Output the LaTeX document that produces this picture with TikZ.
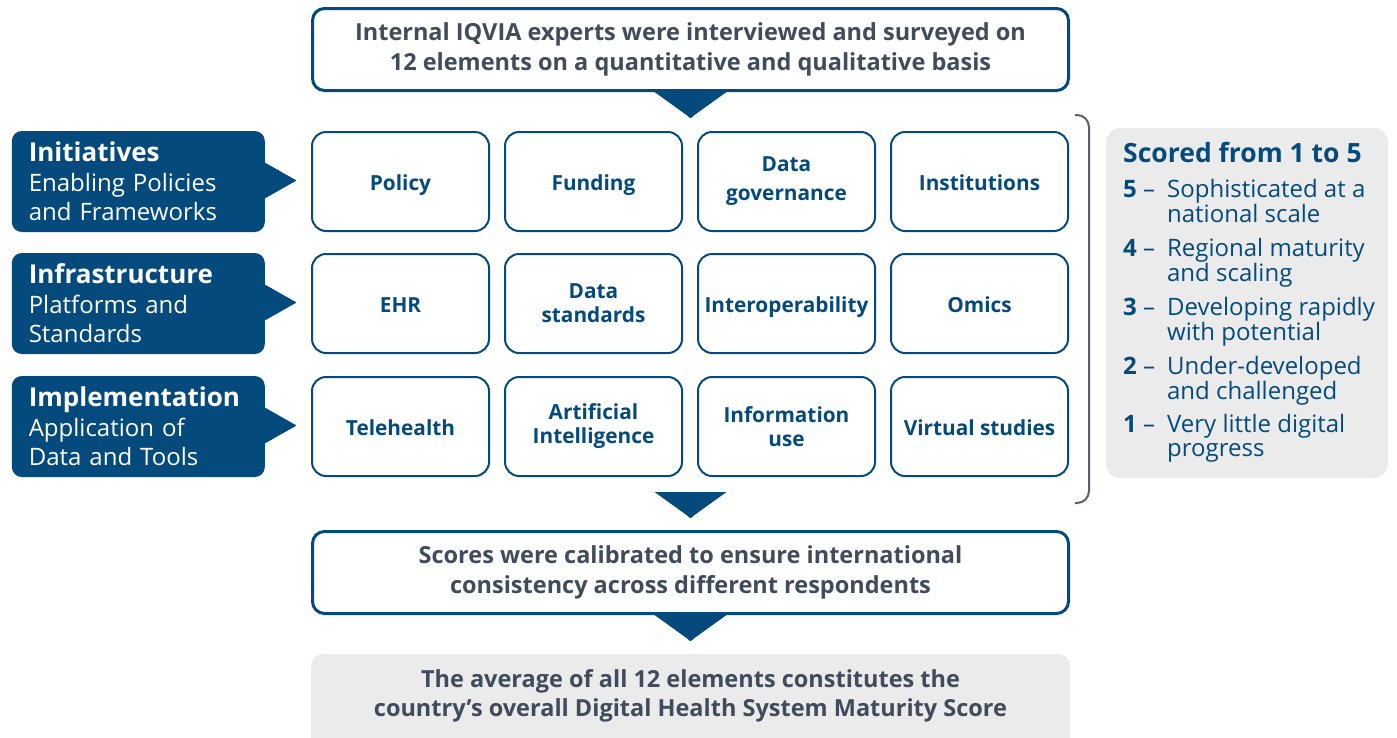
\documentclass[tikz,border=0pt]{standalone}
\usepackage{fontspec}
\setmainfont{Open Sans}
\usetikzlibrary{positioning,calc}

\definecolor{iqblue}{RGB}{4,74,124}
\definecolor{iqtext}{RGB}{64,75,92}
\definecolor{iqgrey}{RGB}{235,235,235}
\definecolor{bracegrey}{RGB}{88,96,108}

\tikzset{
    % the twelve element boxes
    cell/.style={
        draw=iqblue,
        line width=2pt,
        fill=white,
        rounded corners=14pt,
        minimum width=177pt,
        minimum height=99pt,
        inner sep=0pt,
        text=iqblue,
        align=center,
        font=\bfseries\fontsize{20.8}{24}\selectfont
    },
    oneline/.style={
        text height=21pt,
        text depth=4pt
    },
    % wide process steps
    stagebox/.style={
        draw=iqblue,
        line width=3pt,
        fill=white,
        rounded corners=12pt,
        minimum width=756pt,
        minimum height=82pt,
        inner sep=0pt,
        text=iqtext,
        align=center,
        font=\bfseries\fontsize{23.5}{29.5}\selectfont
    },
    stagetext/.style={
        inner sep=0pt,
        text=iqtext,
        align=center,
        font=\bfseries\fontsize{23.5}{29.5}\selectfont
    },
    pillar/.style={
        fill=iqblue,
        rounded corners=10pt,
        minimum height=101pt,
        text width=219pt,
        inner xsep=17pt,
        text=white,
        align=left,
        font=\fontsize{24}{29.5}\selectfont
    },
    flowtip/.pic={
        \fill[iqblue] (-36,0) -- (-4,23) .. controls (0,27) .. (4,23) -- (36,0) -- cycle;
    },
    sidetip/.pic={
        \fill[iqblue] (-2,-20) -- (28,-3) .. controls (32,-1) .. (28,1) -- (-2,18) -- cycle;
    }
}
\newcommand{\pillarhead}[1]{{\bfseries\fontsize{26}{29.5}\selectfont #1}}

\begin{document}
\begin{tikzpicture}[x=1pt, y=-1pt]
    \useasboundingbox (0,0) rectangle (1397,737);

    \node[stagebox] (survey) at (690.5,49.5)
        {Internal IQVIA experts were interviewed and surveyed on\\12 elements on a quantitative and qualitative basis};
    \pic at (survey.south) {flowtip};

    % element grid
    \node[cell, oneline] (policy) at (400.5,181.5) {Policy};
    \node[cell, oneline, right=14pt of policy] (funding) {Funding};
    \node[cell, right=14pt of funding] (governance) {Data\\[5pt]governance};
    \node[cell, oneline, right=14pt of governance] (institutions) {Institutions};

    \node[cell, oneline, below=21pt of policy] (ehr) {EHR};
    \node[cell, right=14pt of ehr] (standards) {Data\\standards};
    \node[cell, oneline, right=14pt of standards] (interop) {Interoperability};
    \node[cell, oneline, right=14pt of interop] (omics) {Omics};

    \node[cell, oneline, below=22pt of ehr] (telehealth) {Telehealth};
    \node[cell, right=14pt of telehealth] (ai) {Artificial\\Intelligence};
    \node[cell, right=14pt of ai] (infouse) {Information\\use};
    \node[cell, oneline, right=14pt of infouse] (virtual) {Virtual studies};

    % the three pillars
    \node[pillar, left=46pt of policy] (initiatives)
        {\pillarhead{Initiatives}\\Enabling Policies\\and Frameworks};
    \node[pillar, left=46pt of ehr] (infrastructure)
        {\pillarhead{Infrastructure}\\Platforms and\\Standards};
    \node[pillar, left=46pt of telehealth] (implementation)
        {\pillarhead{Implementation}\\Application of\\Data and Tools};
    \pic at (initiatives.east) {sidetip};
    \pic at (infrastructure.east) {sidetip};
    \pic at (implementation.east) {sidetip};

    % bracket round the grid
    \draw[bracegrey, line width=2pt, rounded corners=12pt]
        ($(institutions.north east)+(6,-16)$) -- ($(institutions.north east)+(20,-16)$)
        -- ($(virtual.south east)+(20,26)$) -- ($(virtual.south east)+(6,26)$);

    % scoring legend
    \fill[iqgrey, rounded corners=14pt] (1106,128) rectangle (1388,478);
    \node[anchor=base west, inner sep=0pt, text=iqblue, font=\bfseries\fontsize{26.5}{30}\selectfont]
        (scoretitle) at (1123,162) {Scored from 1 to 5};
    \node[anchor=north west, inner sep=0pt, text=iqblue, font=\fontsize{24}{24}\selectfont]
        (scorelist) at ($(scoretitle.base west)+(0,17)$) {%
        \begin{tabular}{@{}l@{\hspace{12pt}}l@{}}
            \textbf{5} – & Sophisticated at a\\ & national scale\\[8pt]
            \textbf{4} – & Regional maturity\\ & and scaling\\[8pt]
            \textbf{3} – & Developing rapidly\\ & with potential\\[8pt]
            \textbf{2} – & Under-developed\\ & and challenged\\[8pt]
            \textbf{1} – & Very little digital\\ & progress
        \end{tabular}};

    % calibration and final score
    \node[stagebox] (calib) at (690.5,572.5)
        {Scores were calibrated to ensure international\\consistency across different respondents};
    \pic at ($(calib.north)+(0,-38)$) {flowtip};
    \pic at (calib.south) {flowtip};

    \fill[iqgrey, rounded corners=12pt] (311,654) rectangle (1070,760);
    \node[stagetext] (final) at (690.5,696)
        {The average of all 12 elements constitutes the\\country’s overall Digital Health System Maturity Score};
\end{tikzpicture}
\end{document}
